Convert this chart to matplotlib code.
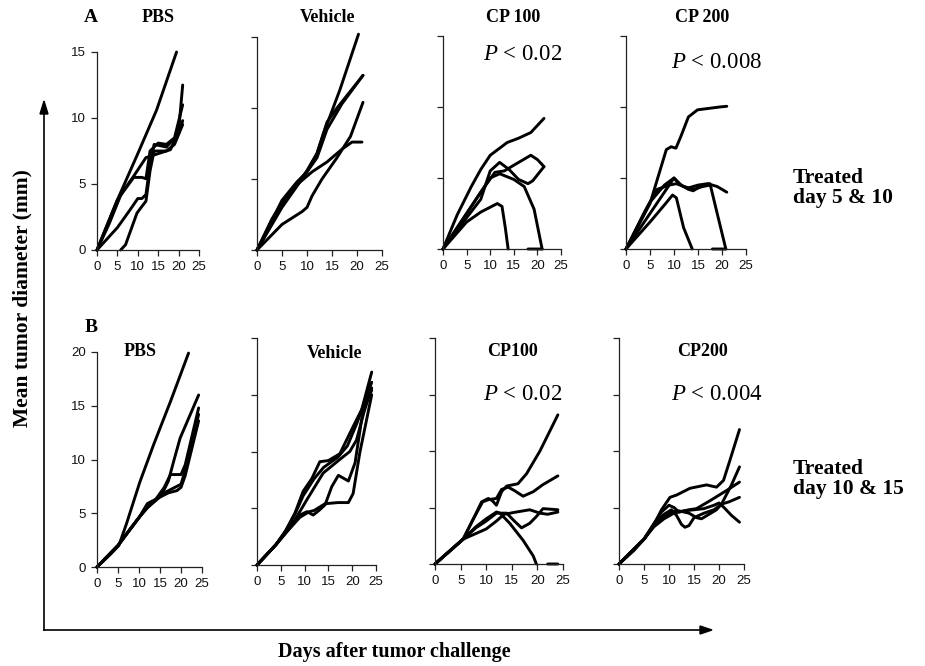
import matplotlib
matplotlib.use("Agg")
import matplotlib.pyplot as plt
from matplotlib.lines import Line2D
from matplotlib.patches import Polygon
import numpy as np

W, H = 925, 666
SERIF = "Liberation Serif"
SANS = "Liberation Sans"
plt.rcParams["mathtext.fontset"] = "custom"
plt.rcParams["mathtext.it"] = "Liberation Serif:italic"
plt.rcParams["mathtext.rm"] = "Liberation Serif"

# ---------------- data: (day, mean tumor diameter in mm) per mouse ----------------
# Row A: treated day 5 & 10
a_pbs = [
    ([0, 5, 10, 14.6, 19.5], [0, 3.8, 7.3, 10.6, 15.0]),
    ([0, 3, 6, 9, 12, 15, 18, 20, 21], [0, 2.0, 4.3, 5.6, 7.0, 7.3, 7.6, 9.0, 12.5]),
    ([0, 5, 9, 11, 12, 13, 15, 17, 19, 21], [0, 3.8, 5.5, 5.5, 5.4, 7.5, 8.1, 8.0, 8.5, 11.0]),
    ([0, 5, 8, 10, 11, 12, 13, 14, 17, 20, 21], [0, 1.7, 3.0, 3.9, 3.9, 4.2, 6.5, 8.0, 7.8, 8.8, 9.8]),
    ([5.8, 7, 9.8, 11, 12, 13, 14, 17, 19, 21], [0, 0.4, 2.8, 3.3, 3.7, 6.0, 7.5, 7.5, 8.0, 9.5]),
]
a_vehicle = [
    ([0, 5, 10, 12, 13.3, 16.6, 20.3], [0, 3.1, 5.6, 6.8, 8.2, 11.3, 15.2]),
    ([0, 5, 8, 10, 12, 14, 17, 21.2], [0, 3.5, 4.8, 5.5, 6.5, 8.5, 10.3, 12.3]),
    ([0, 5, 10, 12, 14, 16, 21.2], [0, 3.0, 5.5, 6.8, 9.0, 10.0, 12.3]),
    ([0, 5, 9, 10, 11, 13, 16, 18.7, 21.2], [0, 1.8, 2.7, 3.0, 3.8, 5.0, 6.5, 8.0, 10.4]),
    ([0, 3, 5, 8, 11, 14, 17, 19, 21], [0, 2.2, 3.3, 4.6, 5.5, 6.2, 7.1, 7.6, 7.6]),
]
a_cp100 = [
    ([0, 3, 6, 8, 10, 13.6, 16, 18.6, 21.4], [0, 2.4, 4.4, 5.6, 6.6, 7.5, 7.8, 8.2, 9.2]),
    ([0, 5, 8, 10, 12, 14, 16, 18, 19, 21.4], [0, 2.2, 3.5, 5.5, 6.1, 5.6, 4.9, 4.6, 4.8, 5.8]),
    ([0, 5, 8, 11, 13, 15, 18.6, 20, 21.4], [0, 2.5, 4.0, 5.4, 5.5, 5.9, 6.6, 6.3, 5.8]),
    ([0, 5, 8, 10, 12, 15, 17.2, 19.3, 21], [0, 2.5, 4.0, 5.0, 5.3, 4.9, 4.4, 2.8, 0]),
    ([0, 5, 8, 11.5, 12.5, 13.2, 13.8, np.nan, 18, 21], [0, 1.9, 2.6, 3.2, 3.0, 1.5, 0, np.nan, 0, 0]),
]
a_cp200 = [
    ([0, 5, 8.4, 9.4, 10.4, 11.4, 13, 14.9, 19.5, 21], [0, 3.2, 7.0, 7.2, 7.1, 7.9, 9.3, 9.8, 10.0, 10.05]),
    ([0, 5, 8, 10, 11, 12, 13, 15, 17, 19, 21], [0, 3.3, 4.5, 5.0, 4.6, 4.4, 4.3, 4.5, 4.6, 4.4, 4.0]),
    ([0, 5, 8, 10, 11.5, 13, 14, 16, 17.5, 19, 20.8], [0, 2.5, 4.0, 5.0, 4.5, 4.2, 4.1, 4.5, 4.6, 2.5, 0]),
    ([0, 4, 6.5, 9, 10.5, 12, 14, 16, 17.5], [0, 2.7, 4.2, 4.5, 4.6, 4.4, 4.2, 4.4, 4.5]),
    ([0, 5, 8, 9.7, 10.5, 12, 13.8, np.nan, 18, 20.8], [0, 1.9, 3.1, 3.8, 3.6, 1.5, 0, np.nan, 0, 0]),
]

# Row B: treated day 10 & 15
b_pbs = [
    ([0, 3, 5.2, 7, 10.2, 13.5, 17.5, 21.8], [0, 1.1, 2.0, 4.0, 7.9, 11.4, 15.4, 19.9]),
    ([0, 5, 8, 10, 12, 14, 16, 17, 18.3, 19.8, 22, 24.2], [0, 2.0, 3.6, 4.6, 5.5, 6.2, 7.2, 8.0, 9.9, 12.0, 14.0, 16.0]),
    ([0, 5, 10, 12, 14, 16, 17.5, 20, 21, 24.2], [0, 2.0, 4.6, 5.6, 6.3, 7.4, 8.6, 8.6, 9.5, 14.8]),
    ([0, 5, 10, 12, 14, 16, 18, 20, 21, 24.2], [0, 2.0, 4.6, 5.9, 6.3, 6.9, 7.3, 7.7, 9.0, 14.2]),
    ([0, 5, 10, 12, 15, 17, 19, 20, 21, 24.2], [0, 2.0, 4.6, 5.6, 6.5, 6.9, 7.1, 7.4, 8.5, 13.6]),
]
b_vehicle = [
    ([0, 4, 6, 8, 9.7, 11.5, 13.2, 15, 17.4, 20.2, 22, 24.1], [0, 1.8, 3.0, 4.6, 6.5, 7.6, 9.1, 9.2, 9.8, 12.2, 13.7, 17.0]),
    ([0, 4, 6, 8, 9.7, 12, 14, 17, 19, 21, 24.1], [0, 1.8, 3.0, 4.5, 6.1, 7.6, 8.6, 9.5, 10.5, 12.5, 16.1]),
    ([0, 4, 6, 8, 10.4, 13.9, 17.4, 19.5, 20.9, 22.5, 24.1], [0, 1.8, 2.9, 4.0, 5.7, 8.1, 9.3, 10.0, 11.0, 13.5, 15.6]),
    ([0, 4, 6, 9, 10.5, 11.8, 13, 14.3, 15.7, 17.1, 19.2, 20.6, 22.3, 24.1],
     [0, 1.8, 2.8, 4.4, 4.7, 4.4, 4.8, 5.3, 6.9, 7.9, 7.4, 9.0, 13.7, 15.4]),
    ([0, 4, 6, 9, 11, 12, 14.3, 17, 19.2, 20.2, 21.6, 24.1], [0, 1.8, 2.8, 4.2, 4.7, 4.8, 5.4, 5.5, 5.5, 6.3, 9.9, 15.0]),
]
b_cp100 = [
    ([0, 3, 5.5, 7.5, 9.1, 10.4, 11.2, 12, 13, 14, 16.2, 17.9, 20.5, 24],
     [0, 1.2, 2.2, 4.0, 5.5, 5.8, 5.6, 5.2, 6.4, 6.9, 7.1, 8.0, 10.0, 13.2]),
    ([0, 3, 5.5, 7.5, 9.3, 10.5, 12, 13, 14.3, 15.5, 17.2, 19.2, 21, 24],
     [0, 1.2, 2.2, 4.0, 5.5, 5.7, 5.8, 6.6, 6.8, 6.5, 6.0, 6.4, 7.0, 7.8]),
    ([0, 5.5, 8, 10, 12, 12.7, 14.6, 17.2, 19.2, 19.8, np.nan, 22, 24],
     [0, 2.2, 3.3, 4.0, 4.6, 4.5, 3.6, 2.1, 0.7, 0, np.nan, 0, 0]),
    ([0, 5.5, 8, 10, 12, 13.5, 15.9, 18.5, 20.5, 22, 24], [0, 2.2, 2.7, 3.1, 3.8, 4.4, 4.6, 4.8, 4.5, 4.4, 4.6]),
    ([0, 5.5, 8, 10, 12, 14, 15.5, 16.9, 18.5, 19.8, 21.1, 24],
     [0, 2.2, 3.2, 3.8, 4.5, 4.5, 3.8, 3.2, 3.6, 4.2, 4.9, 4.8]),
]
b_cp200 = [
    ([0, 3, 5, 7, 8.5, 10.2, 11.5, 14.2, 17.5, 19.5, 20.9, 22.2, 24.1],
     [0, 1.2, 2.2, 3.5, 4.8, 5.9, 6.1, 6.7, 7.0, 6.8, 7.4, 9.2, 11.9]),
    ([0, 5, 7, 8.5, 10, 11, 12, 14, 15.5, 18.2, 21.5, 24.1], [0, 2.2, 3.6, 4.6, 5.2, 5.0, 4.6, 4.8, 4.9, 5.6, 6.5, 7.25]),
    ([0, 5, 7, 9, 10.5, 11.5, 12.5, 13.2, 14, 15, 17, 19, 20.5, 22, 24.1],
     [0, 2.2, 3.5, 4.4, 4.8, 4.3, 3.5, 3.25, 3.4, 4.1, 4.5, 4.8, 5.3, 5.5, 5.9]),
    ([0, 5, 7, 9, 10.5, 12, 14, 15.5, 16.5, 18, 19.5, 20.5, 22.5, 24.1],
     [0, 2.2, 3.4, 4.2, 4.6, 4.7, 4.5, 4.1, 4.0, 4.4, 4.8, 5.3, 7.0, 8.6]),
    ([0, 5, 7, 9, 11, 13, 15, 17, 19, 20, 21, 22.5, 24.1],
     [0, 2.2, 3.3, 4.0, 4.5, 4.7, 4.8, 4.9, 5.2, 5.4, 5.0, 4.3, 3.7]),
]

row_a_titles = ["PBS", "Vehicle", "CP 100", "CP 200"]
row_b_titles = ["PBS", "Vehicle", "CP100", "CP200"]
row_a_p = [None, None, "0.02", "0.008"]
row_b_p = [None, None, "0.02", "0.004"]
x_ticks = [0, 5, 10, 15, 20, 25]
row_a_yticks = [0, 5, 10, 15]
row_b_yticks = [0, 5, 10, 15, 20]

# ---------------- layout (pixel boxes: x0, x1, y_zero, y_top) ----------------
row_a_boxes = [(97, 199, 250, 52), (257, 382, 250, 37), (443, 561, 249, 36), (626, 746, 249, 36)]
row_b_boxes = [(97, 202, 567, 352), (257, 376, 565, 338), (435, 563, 564, 338), (619, 744, 564, 338)]

fig = plt.figure(figsize=(W / 100, H / 100), dpi=100)
fig.patch.set_facecolor("white")


def fx(x):
    return x / W


def fy(y):
    return 1 - y / H


def make_panel(box, series, ymax, yticks, show_ylabels):
    x0, x1, yz, yt = box
    ax = fig.add_axes([fx(x0), fy(yz), (x1 - x0) / W, (yz - yt) / H])
    for xs, ys in series:
        ax.plot(xs, ys, color="black", lw=2.1, solid_capstyle="round",
                solid_joinstyle="round", clip_on=False)
    ax.set_xlim(0, 25)
    ax.set_ylim(0, ymax)
    ax.set_xticks(x_ticks)
    ax.set_yticks(yticks)
    ax.set_xticklabels([str(t) for t in x_ticks], fontfamily=SANS, fontsize=9.5)
    if show_ylabels:
        ax.set_yticklabels([str(t) for t in yticks], fontfamily=SANS, fontsize=9.5)
    else:
        ax.set_yticklabels([])
    for side in ("top", "right"):
        ax.spines[side].set_visible(False)
    for side in ("left", "bottom"):
        ax.spines[side].set_linewidth(0.9)
        ax.spines[side].set_color("#222222")
    ax.tick_params(direction="out", length=4, width=0.9, color="#222222",
                   labelcolor="#111111", pad=4)
    ax.patch.set_alpha(0)
    return ax


row_a = [a_pbs, a_vehicle, a_cp100, a_cp200]
row_b = [b_pbs, b_vehicle, b_cp100, b_cp200]
for i, (box, ser) in enumerate(zip(row_a_boxes, row_a)):
    make_panel(box, ser, 15, row_a_yticks, i == 0)
for i, (box, ser) in enumerate(zip(row_b_boxes, row_b)):
    make_panel(box, ser, 20, row_b_yticks, i == 0)

# ---------------- titles and annotations ----------------
def btext(x, y, s, size=13, **kw):
    fig.text(fx(x), fy(y), s, fontfamily=SERIF, fontweight="bold", fontsize=size,
             ha=kw.pop("ha", "center"), va=kw.pop("va", "center"), **kw)


btext(91, 18, "A", size=14)
btext(91, 327, "B", size=14)
row_a_title_pos = [(158, 18), (328, 18), (513, 18), (702, 18)]
row_b_title_pos = [(140, 352), (335, 353), (513, 352), (703, 352)]
for (x, y), t in zip(row_a_title_pos, row_a_titles):
    btext(x, y, t)
for (x, y), t in zip(row_b_title_pos, row_b_titles):
    btext(x, y, t)

p_pos_a = [None, None, (523, 54), (717, 62)]
p_pos_b = [None, None, (523, 395), (717, 395)]
for pos, p in zip(p_pos_a + p_pos_b, row_a_p + row_b_p):
    if p is None:
        continue
    fig.text(fx(pos[0]), fy(pos[1]), r"$P$" + " < " + p, fontfamily=SERIF,
             fontsize=16.5, ha="center", va="center")

btext(793, 188, "Treated\nday 5 & 10", size=15.5, ha="left", linespacing=1.05)
btext(793, 479, "Treated\nday 10 & 15", size=15.5, ha="left", linespacing=1.05)

btext(394, 652, "Days after tumor challenge", size=14.5)
btext(22, 298, "Mean tumor diameter (mm)", size=15.5, rotation=90)

# ---------------- axis arrows ----------------
fig.add_artist(Line2D([fx(44), fx(44)], [fy(630), fy(112)], color="black", lw=1.2))
fig.add_artist(Line2D([fx(44), fx(702)], [fy(630), fy(630)], color="black", lw=1.2))
fig.add_artist(Polygon([(fx(40), fy(114)), (fx(48), fy(114)), (fx(44), fy(101))],
                       closed=True, color="black"))
fig.add_artist(Polygon([(fx(700), fy(626)), (fx(700), fy(634)), (fx(712), fy(630))],
                       closed=True, color="black"))

fig.savefig("out.png", dpi=100, facecolor="white")
